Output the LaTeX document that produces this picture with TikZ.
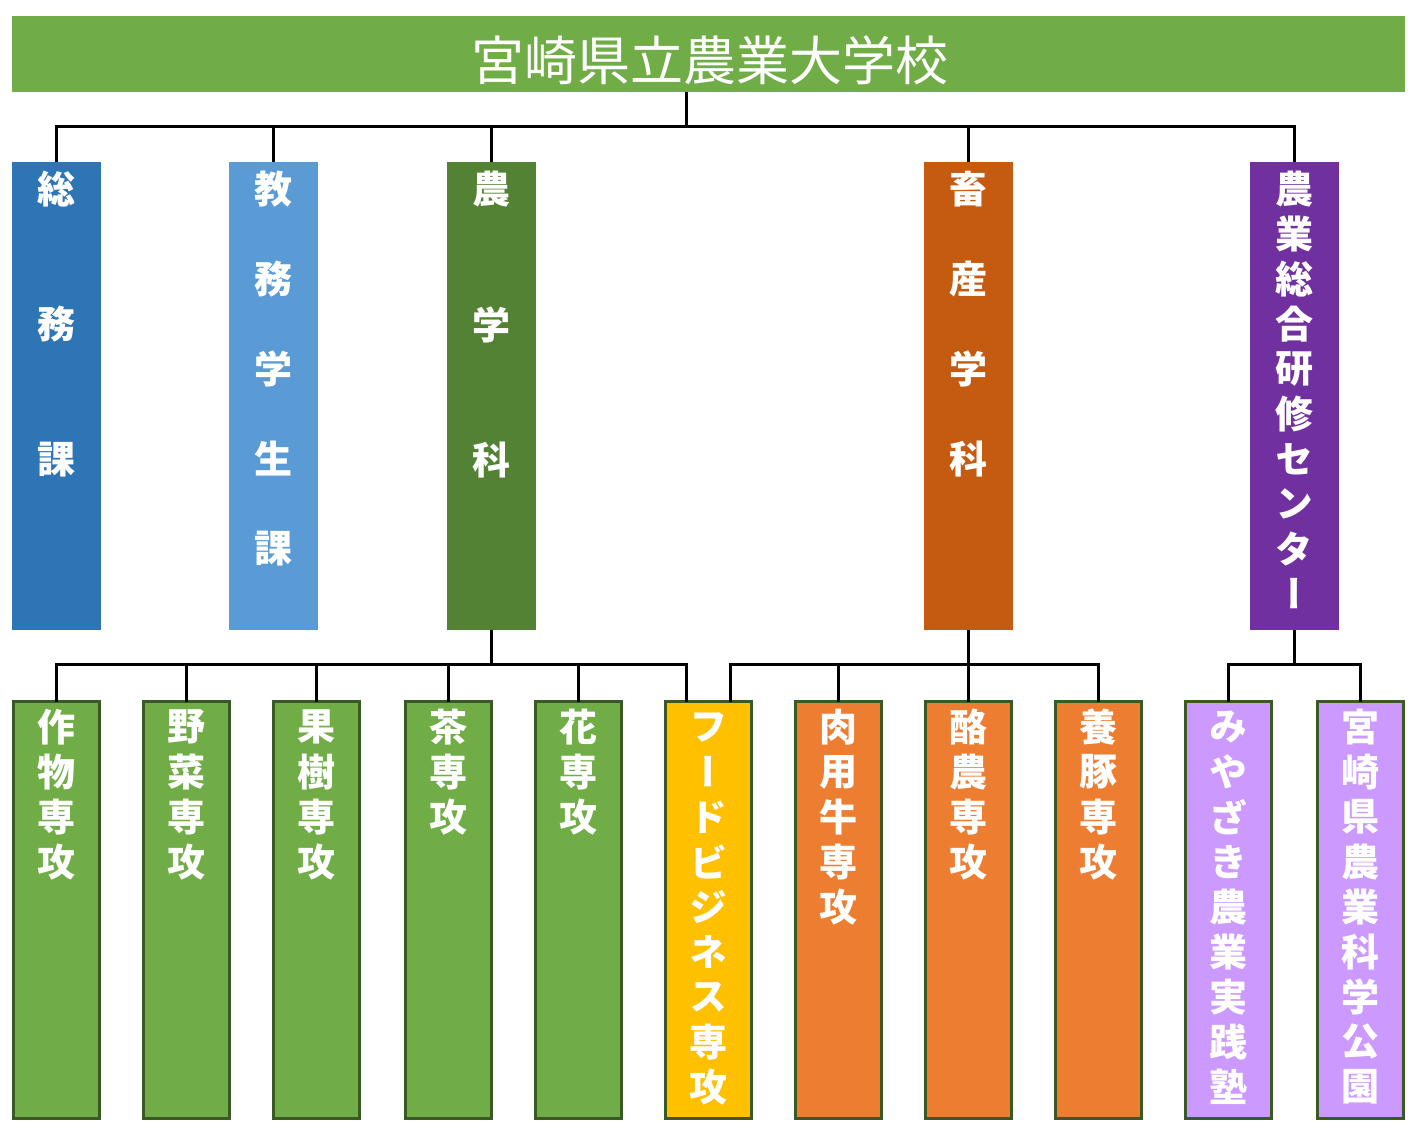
\documentclass[tikz,border=0pt]{standalone}
\usepackage{fontspec}
\newfontfamily\jpfont[RawFeature=+vert]{Noto Sans CJK JP}
\definecolor{titlegreen}{HTML}{70AD47}
\definecolor{soumu}{HTML}{2E75B6}
\definecolor{kyomu}{HTML}{5B9BD5}
\definecolor{nogaku}{HTML}{548235}
\definecolor{chikusan}{HTML}{C55A11}
\definecolor{center}{HTML}{7030A0}
\definecolor{lgreen}{HTML}{70AD47}
\definecolor{lyellow}{HTML}{FFC000}
\definecolor{lorange}{HTML}{ED7D31}
\definecolor{lpurple}{HTML}{CC99FF}
\definecolor{bord}{HTML}{3A5A23}
\newcommand\vtext[5]{\foreach \c [count=\i] in {#5} {\node[txt] (#1-\i) at (#2, {#3+(\i-1)*#4}) {\c};}}
\begin{document}
\begin{tikzpicture}[x=0.75pt,y=-0.75pt,
  conn/.style={line width=2.25pt,black},
  hbox/.style={draw=none,minimum width=66.75pt,minimum height=351pt,inner sep=0pt,outer sep=0pt},
  lbox/.style={draw=bord,line width=2.25pt,minimum width=64.5pt,minimum height=312.75pt,inner sep=0pt,outer sep=0pt},
  txt/.style={text=white,font=\jpfont\bfseries\fontsize{28.5}{30}\selectfont,inner sep=0pt}]
\useasboundingbox (0,0) rectangle (1418,1131);
% title
\node[fill=titlegreen,minimum width=1044.75pt,minimum height=57pt,inner sep=0pt,outer sep=0pt] (title) at (708.5,54) {};
\node[text=white,font=\jpfont\fontsize{39.75}{42}\selectfont,inner sep=0pt] (titletext) at (710,60) {宮崎県立農業大学校};
% coordinates
\coordinate (tdrop) at (686,92);
\coordinate (bus1) at (0,127);
\coordinate (bus2) at (0,664);
\coordinate (fdl) at (686,701.5);
\coordinate (fdr) at (730,701.5);
% connectors (drawn first)
\draw[conn] (tdrop) -- (tdrop |- bus1);
\draw[conn] (56.5,162) coordinate (b1top) -- (b1top |- bus1) -- (1294.5,127) coordinate (b5bus) -- (1294.5,162) coordinate (b5top);
\draw[conn] (273.5,127) coordinate (b2bus) -- (273.5,162) coordinate (b2top);
\draw[conn] (491.5,127) coordinate (b3bus) -- (491.5,162) coordinate (b3top);
\draw[conn] (968.5,127) coordinate (b4bus) -- (968.5,162) coordinate (b4top);
% row 1 boxes
\node[hbox,fill=soumu] (b1) at (56.5,396) {};
\node[hbox,fill=kyomu] (b2) at (273.5,396) {};
\node[hbox,fill=nogaku] (b3) at (491.5,396) {};
\node[hbox,fill=chikusan] (b4) at (968.5,396) {};
\node[hbox,fill=center] (b5) at (1294.5,396) {};
% row 2 boxes
\node[lbox,fill=lgreen] (c1) at (56.5,910) {};
\node[lbox,fill=lgreen] (c2) at (186.5,910) {};
\node[lbox,fill=lgreen] (c3) at (316.5,910) {};
\node[lbox,fill=lgreen] (c4) at (448.5,910) {};
\node[lbox,fill=lgreen] (c5) at (578.5,910) {};
\node[lbox,fill=lyellow] (c6) at (708.5,910) {};
\node[lbox,fill=lorange] (c7) at (838.5,910) {};
\node[lbox,fill=lorange] (c8) at (968.5,910) {};
\node[lbox,fill=lorange] (c9) at (1098.5,910) {};
\node[lbox,fill=lpurple] (c10) at (1228.5,910) {};
\node[lbox,fill=lpurple] (c11) at (1360.5,910) {};
% row 2 connectors
\draw[conn] (b3.south) -- (b3.south |- bus2);
\draw[conn] (c1.north) -- (c1.north |- bus2) -- (fdl |- bus2) -- (fdl);
\foreach \n in {c2,c3,c4,c5} {\draw[conn] (\n.north) -- (\n.north |- bus2);}
\draw[conn] (b4.south) -- (b4.south |- bus2);
\draw[conn] (fdr) -- (fdr |- bus2) -- (c9.north |- bus2) -- (c9.north);
\foreach \n in {c7,c8} {\draw[conn] (\n.north) -- (\n.north |- bus2);}
\draw[conn] (b5.south) -- (b5.south |- bus2);
\draw[conn] (c10.north) -- (c10.north |- bus2) -- (c11.north |- bus2) -- (c11.north);
% row 1 texts
\vtext{t1}{56.5}{189}{135.5}{総,務,課}
\vtext{t2}{273.5}{189}{90}{教,務,学,生,課}
\vtext{t3}{491.5}{189}{135.5}{農,学,科}
\vtext{t4}{968.5}{189}{90}{畜,産,学,科}
\vtext{t5}{1294.5}{189}{45}{農,業,総,合,研,修,セ,ン,タ,ー}
% row 2 texts
\vtext{u1}{56.5}{727}{45}{作,物,専,攻}
\vtext{u2}{186.5}{727}{45}{野,菜,専,攻}
\vtext{u3}{316.5}{727}{45}{果,樹,専,攻}
\vtext{u4}{448.5}{727}{45}{茶,専,攻}
\vtext{u5}{578.5}{727}{45}{花,専,攻}
\vtext{u6}{708.5}{727}{45}{フ,ー,ド,ビ,ジ,ネ,ス,専,攻}
\vtext{u7}{838.5}{727}{45}{肉,用,牛,専,攻}
\vtext{u8}{968.5}{727}{45}{酪,農,専,攻}
\vtext{u9}{1098.5}{727}{45}{養,豚,専,攻}
\vtext{u10}{1228.5}{727}{45}{み,や,ざ,き,農,業,実,践,塾}
\vtext{u11}{1360.5}{727}{45}{宮,崎,県,農,業,科,学,公,園}
\end{tikzpicture}
\end{document}
